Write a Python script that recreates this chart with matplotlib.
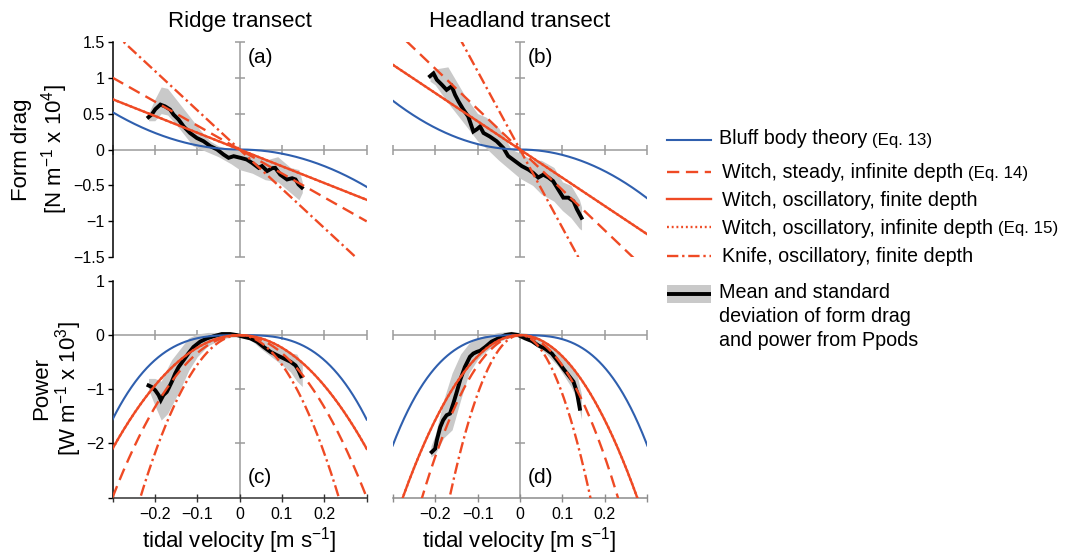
import numpy as np
import matplotlib
matplotlib.use("Agg")
import matplotlib.pyplot as plt
from matplotlib.patches import Rectangle

plt.rcParams['font.family'] = ['Liberation Sans', 'DejaVu Sans']
plt.rcParams['mathtext.fontset'] = 'custom'
plt.rcParams['mathtext.rm'] = 'Liberation Sans'
plt.rcParams['mathtext.it'] = 'Liberation Sans:italic'
plt.rcParams['mathtext.bf'] = 'Liberation Sans:bold'
plt.rcParams['axes.unicode_minus'] = True

# ---------------- data ----------------
transects = ["Ridge transect", "Headland transect"]
panel_labels = ["(a)", "(b)", "(c)", "(d)"]
xtick_vals = [-0.3, -0.2, -0.1, 0.0, 0.1, 0.2, 0.3]
xtick_labels = ["", "\u22120.2", "\u22120.1", "0", "0.1", "0.2", ""]
drag_ticks = [-1.5, -1, -0.5, 0, 0.5, 1, 1.5]
drag_tick_labels = ["\u22121.5", "\u22121", "\u22120.5", "0", "0.5", "1", "1.5"]
power_ticks = [-3, -2, -1, 0, 1]
power_tick_labels = ["", "\u22122", "\u22121", "0", "1"]

# theory: form drag (x1e4 N/m) at u = +0.3 m/s (a) ridge, (b) headland
bluff_drag_03 = [-0.52, -0.68]          # quadratic drag law
witch_steady_drag_03 = [-1.00, -1.69]   # linear
witch_osc_fin_drag_03 = [-0.70, -1.18]  # linear
witch_osc_inf_drag_03 = [-0.70, -1.18]  # linear (hidden under finite-depth curve)
knife_drag_03 = [-1.64, -3.27]          # linear

# measured mean form drag (x1e4 N/m), ridge
ridge_u = [-0.215, -0.207, -0.199, -0.187, -0.176, -0.164, -0.156, -0.144, -0.132, -0.117,
           -0.101, -0.085, -0.069, -0.053, -0.038, -0.026, -0.014, 0.002, 0.017, 0.029,
           0.045, 0.053, 0.065, 0.077, 0.084, 0.096, 0.112, 0.124, 0.132, 0.139, 0.147]
ridge_drag = [0.45, 0.49, 0.56, 0.625, 0.60, 0.555, 0.486, 0.417, 0.32, 0.23,
              0.16, 0.115, 0.046, 0.0, -0.07, -0.116, -0.093, -0.116, -0.14, -0.185,
              -0.255, -0.23, -0.30, -0.26, -0.255, -0.35, -0.417, -0.40, -0.417, -0.486, -0.53]
ridge_band_u = [-0.215, -0.2, -0.185, -0.17, -0.15, -0.13, -0.11, -0.09, -0.07, -0.05, -0.02,
                0.0, 0.03, 0.06, 0.09, 0.12, 0.14, 0.148]
ridge_band_lo = [0.40, 0.40, 0.50, 0.48, 0.35, 0.20, 0.05, 0.0, -0.05, -0.10, -0.20,
                 -0.28, -0.33, -0.42, -0.45, -0.60, -0.70, -0.60]
ridge_band_hi = [0.50, 0.70, 0.87, 0.85, 0.70, 0.55, 0.40, 0.25, 0.12, 0.05, 0.0,
                 0.0, -0.05, -0.15, -0.10, -0.25, -0.28, -0.45]

# measured mean form drag, headland
head_u = [-0.212, -0.204, -0.196, -0.184, -0.173, -0.161, -0.153, -0.145, -0.134, -0.122,
          -0.110, -0.102, -0.094, -0.086, -0.071, -0.055, -0.039, -0.028, -0.012, 0.004,
          0.020, 0.031, 0.043, 0.055, 0.067, 0.078, 0.090, 0.102, 0.114, 0.126, 0.134, 0.145]
head_drag = [1.02, 1.06, 0.97, 0.90, 0.83, 0.88, 0.76, 0.67, 0.56, 0.46,
             0.25, 0.28, 0.32, 0.23, 0.18, 0.115, 0.02, -0.09, -0.16, -0.23,
             -0.28, -0.325, -0.39, -0.35, -0.39, -0.44, -0.555, -0.67, -0.67, -0.72, -0.83, -0.95]
head_band_u = [-0.212, -0.2, -0.17, -0.15, -0.13, -0.1, -0.08, -0.05, -0.02, 0.0, 0.03,
               0.05, 0.08, 0.1, 0.12, 0.14, 0.145]
head_band_lo = [0.95, 0.90, 0.65, 0.50, 0.35, 0.12, 0.02, -0.15, -0.30, -0.40, -0.50,
                -0.62, -0.72, -0.85, -0.95, -1.10, -1.12]
head_band_hi = [1.05, 1.12, 1.15, 0.95, 0.75, 0.50, 0.45, 0.30, 0.0, -0.05, -0.15,
                -0.15, -0.25, -0.45, -0.50, -0.70, -0.80]

# measured mean power (x1e3 W/m), ridge
ridgeP_u = [-0.215, -0.207, -0.199, -0.191, -0.186, -0.18, -0.172, -0.168, -0.16, -0.152,
            -0.144, -0.132, -0.121, -0.109, -0.093, -0.077, -0.061, -0.042, -0.022, -0.006,
            0.009, 0.025, 0.041, 0.057, 0.073, 0.088, 0.104, 0.120, 0.132, 0.139, 0.145]
ridge_power = [-0.93, -0.96, -1.02, -1.11, -1.2, -1.11, -1.05, -0.99, -0.86, -0.71,
               -0.59, -0.46, -0.34, -0.22, -0.12, -0.06, -0.02, 0.02, 0.02, 0.0,
               -0.03, -0.06, -0.12, -0.22, -0.31, -0.37, -0.43, -0.49, -0.56, -0.65, -0.76]
ridgeP_band_u = [-0.215, -0.2, -0.185, -0.17, -0.16, -0.14, -0.12, -0.1, -0.075, -0.05,
                 -0.025, 0.0, 0.025, 0.05, 0.075, 0.1, 0.12, 0.135, 0.148]
ridgeP_band_lo = [-1.0, -1.3, -1.57, -1.45, -1.3, -1.0, -0.65, -0.4, -0.2, -0.1,
                  -0.04, -0.03, -0.08, -0.25, -0.4, -0.55, -0.68, -0.85, -0.95]
ridgeP_band_hi = [-0.8, -0.8, -0.85, -0.6, -0.45, -0.25, -0.05, 0.02, 0.05, 0.05,
                  0.05, 0.03, 0.0, -0.05, -0.15, -0.25, -0.33, -0.35, -0.55]

# measured mean power, headland
headP_u = [-0.208, -0.200, -0.196, -0.188, -0.181, -0.173, -0.165, -0.157, -0.149, -0.141,
           -0.130, -0.118, -0.110, -0.102, -0.094, -0.082, -0.067, -0.051, -0.035, -0.020,
           -0.004, 0.012, 0.028, 0.043, 0.059, 0.075, 0.090, 0.102, 0.114, 0.126, 0.134, 0.141]
head_power = [-2.16, -2.10, -1.94, -1.70, -1.57, -1.48, -1.45, -1.26, -1.05, -0.83,
              -0.59, -0.40, -0.34, -0.31, -0.29, -0.22, -0.12, -0.06, 0.0, 0.02,
              0.0, -0.06, -0.11, -0.19, -0.25, -0.34, -0.49, -0.62, -0.74, -0.86, -1.05, -1.36]
headP_band_u = [-0.21, -0.2, -0.18, -0.16, -0.14, -0.12, -0.1, -0.08, -0.05, -0.02, 0.0,
                0.03, 0.06, 0.09, 0.12, 0.135, 0.145]
headP_band_lo = [-2.25, -2.2, -1.9, -1.75, -1.2, -0.7, -0.45, -0.3, -0.12, -0.03, -0.03,
                 -0.15, -0.33, -0.58, -0.95, -1.2, -1.55]
headP_band_hi = [-2.05, -1.85, -1.2, -0.7, -0.35, -0.15, -0.05, 0.0, 0.05, 0.07, 0.05,
                 0.02, -0.12, -0.3, -0.55, -0.75, -1.1]

legend_labels = [("Bluff body theory", "(Eq. 13)"),
                 ("Witch, steady, infinite depth", "(Eq. 14)"),
                 ("Witch, oscillatory, finite depth", ""),
                 ("Witch, oscillatory, infinite depth", "(Eq. 15)"),
                 ("Knife, oscillatory, finite depth", "")]
mean_label = ["Mean and standard", "deviation of form drag", "and power from Ppods"]

# ---------------- style ----------------
BLUE = "#2f5fae"
RED = "#ef4a24"
GRAY = "#9b9b9b"
BAND = "#c9c9c9"
W, H = 1069, 556

styles = {
    "bluff": dict(color=BLUE, lw=1.5, ls="-"),
    "steady": dict(color=RED, lw=1.7, ls=(0, (5.2, 2.8))),
    "oscfin": dict(color=RED, lw=1.7, ls="-"),
    "oscinf": dict(color=RED, lw=1.7, ls=(0, (0.8, 1.2))),
    "knife": dict(color=RED, lw=1.7, ls=(0, (4.8, 1.6, 1.0, 1.6))),
}
zorders = {"bluff": 4, "steady": 4, "oscfin": 4.2, "oscinf": 4.1, "knife": 4}

fig = plt.figure(figsize=(W / 100, H / 100), dpi=100)


def rect(l, r, t, b):
    return [l / W, 1 - b / H, (r - l) / W, (b - t) / H]


ax_a = fig.add_axes(rect(112.5, 366.7, 41.7, 257.3))
ax_b = fig.add_axes(rect(392.7, 647.3, 41.7, 257.3))
ax_c = fig.add_axes(rect(112.5, 366.7, 281.0, 497.5))
ax_d = fig.add_axes(rect(392.7, 647.3, 281.0, 497.5))

u = np.linspace(-0.3, 0.3, 601)


def drag_models(i):
    return {
        "bluff": bluff_drag_03[i] * u * np.abs(u) / 0.09,
        "steady": witch_steady_drag_03[i] * u / 0.3,
        "oscfin": witch_osc_fin_drag_03[i] * u / 0.3,
        "oscinf": witch_osc_inf_drag_03[i] * u / 0.3,
        "knife": knife_drag_03[i] * u / 0.3,
    }


def base_axes(ax, ylim, vticks):
    ax.set_xlim(-0.3, 0.3)
    ax.set_ylim(*ylim)
    for s in ax.spines.values():
        s.set_visible(False)
    ax.set_xticks([])
    ax.set_yticks([])
    ax.patch.set_visible(False)
    ax.axhline(0, color=GRAY, lw=1.1, zorder=1)
    ax.axvline(0, color=GRAY, lw=1.1, zorder=1)
    ax.plot(xtick_vals, np.zeros(len(xtick_vals)), ls="none", marker="|", ms=7,
            mew=1.1, color=GRAY, zorder=1, clip_on=False)
    ax.plot(np.zeros(len(vticks)), vticks, ls="none", marker="_", ms=7,
            mew=1.1, color=GRAY, zorder=1, clip_on=False)


datasets_drag = [
    (ridge_u, ridge_drag, ridge_band_u, ridge_band_lo, ridge_band_hi),
    (head_u, head_drag, head_band_u, head_band_lo, head_band_hi),
]
datasets_power = [
    (ridgeP_u, ridge_power, ridgeP_band_u, ridgeP_band_lo, ridgeP_band_hi),
    (headP_u, head_power, headP_band_u, headP_band_lo, headP_band_hi),
]

order = ["bluff", "oscinf", "steady", "knife", "oscfin"]
for i, (axF, axP) in enumerate([(ax_a, ax_c), (ax_b, ax_d)]):
    models = drag_models(i)
    # drag panels
    base_axes(axF, (-1.5, 1.5), [-1.5, -1, -0.5, 0.5, 1, 1.5])
    du, dv, bu, blo, bhi = datasets_drag[i]
    axF.fill_between(bu, blo, bhi, color=BAND, lw=0, zorder=2)
    axF.plot(du, dv, color="black", lw=2.8, zorder=3, solid_joinstyle="miter")
    for key in order:
        axF.plot(u, models[key], zorder=zorders[key], **styles[key])
    # power panels: P = F * u (x1e3 W/m)
    base_axes(axP, (-3, 1), [1, -1, -2])
    du, dv, bu, blo, bhi = datasets_power[i]
    axP.fill_between(bu, blo, bhi, color=BAND, lw=0, zorder=2)
    axP.plot(du, dv, color="black", lw=2.8, zorder=3, solid_joinstyle="miter")
    for key in order:
        axP.plot(u, 10 * u * models[key], zorder=zorders[key], **styles[key])

# left spines with labels
for ax, ticks, labels in [(ax_a, drag_ticks, drag_tick_labels),
                          (ax_c, power_ticks, power_tick_labels)]:
    ax.spines["left"].set_visible(True)
    ax.spines["left"].set_color("black")
    ax.spines["left"].set_linewidth(1.1)
    ax.set_yticks(ticks)
    ax.set_yticklabels(labels)
    ax.tick_params(axis="y", direction="out", length=3.6, width=1.0, pad=2,
                   labelsize=11.5, colors="black")

# bottom spines
for ax, col in [(ax_c, "#333333"), (ax_d, "#8c8c8c")]:
    ax.spines["bottom"].set_visible(True)
    ax.spines["bottom"].set_color(col)
    ax.spines["bottom"].set_linewidth(1.1)
    ax.set_xticks(xtick_vals)
    ax.set_xticklabels(xtick_labels)
    ax.tick_params(axis="x", direction="inout", length=6, width=1.0, pad=4,
                   labelsize=11.5, color=col, labelcolor="black")

# ---------------- overlay for text and legend ----------------
lax = fig.add_axes([0, 0, 1, 1])
lax.set_xlim(0, W)
lax.set_ylim(H, 0)
lax.axis("off")
lax.patch.set_visible(False)

TS = 16
lax.text(240, 27, transects[0], ha="center", va="baseline", fontsize=TS)
lax.text(520, 27, transects[1], ha="center", va="baseline", fontsize=TS)

for (x, y), lab in zip([(248, 63), (528, 63), (248, 483), (528, 483)], panel_labels):
    lax.text(x, y, lab, ha="left", va="baseline", fontsize=15)

rk = dict(rotation=90, rotation_mode="anchor", ha="center", va="baseline", fontsize=TS)
lax.text(27, 149.5, "Form drag", **rk)
lax.text(62, 149.5, "[N m$^{-1}$ x 10$^{4}$]", **rk)
lax.text(47, 389, "Power", **rk)
lax.text(75, 389, "[W m$^{-1}$ x 10$^{3}$]", **rk)

lax.text(239.5, 548, "tidal velocity [m s$^{-1}$]", ha="center", va="baseline", fontsize=TS)
lax.text(519.5, 548, "tidal velocity [m s$^{-1}$]", ha="center", va="baseline", fontsize=TS)

# legend
LS = 14.2
line_y = [140, 172.3, 199.3, 227.3, 255.7]
text_base = [144.5, 178.3, 205.5, 233.5, 262]
keys = ["bluff", "steady", "oscfin", "oscinf", "knife"]
fig.canvas.draw()
renderer = fig.canvas.get_renderer()
for k, ly, tb, (main, eq) in zip(keys, line_y, text_base, legend_labels):
    lax.plot([667, 711], [ly, ly], **styles[k])
    x0 = 719 if k == "bluff" else 721.5
    t = lax.text(x0, tb, main, ha="left", va="baseline", fontsize=LS)
    if eq:
        bb = t.get_window_extent(renderer=renderer)
        x_end = lax.transData.inverted().transform((bb.x1, bb.y0))[0]
        lax.text(x_end + 5, tb, eq, ha="left", va="baseline", fontsize=12.2)

lax.add_patch(Rectangle((666.7, 284.5), 44.3, 18.5, color=BAND, lw=0))
lax.plot([666.7, 711], [293.5, 293.5], color="black", lw=2.8, solid_capstyle="butt")
for ty, s in zip([298.5, 322.5, 345.5], mean_label):
    lax.text(719, ty, s, ha="left", va="baseline", fontsize=LS)

fig.savefig("out.png", dpi=100)
